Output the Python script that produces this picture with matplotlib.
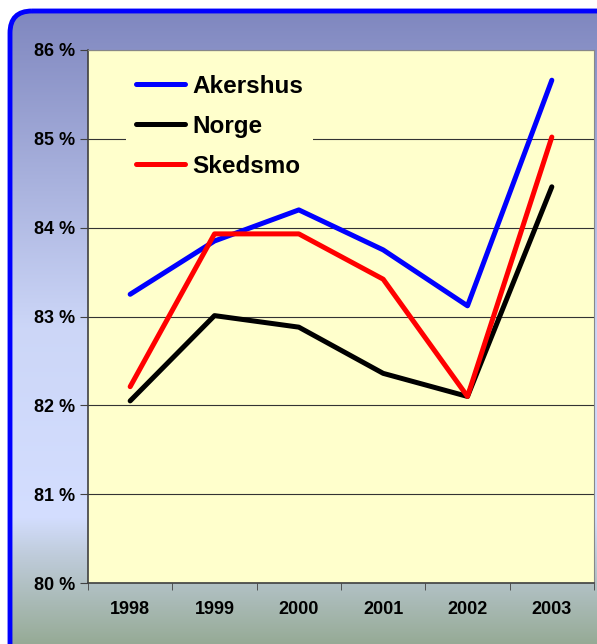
import matplotlib.pyplot as plt
import numpy as np
from matplotlib.patches import FancyBboxPatch
from matplotlib.colors import LinearSegmentedColormap

plt.rcParams['font.family'] = ['Liberation Sans', 'DejaVu Sans']

# Data
years = ['1998', '1999', '2000', '2001', '2002', '2003']
akershus = [83.25, 83.85, 84.20, 83.75, 83.12, 85.66]
norge = [82.05, 83.01, 82.88, 82.36, 82.10, 84.46]
skedsmo = [82.21, 83.93, 83.93, 83.42, 82.10, 85.02]
yticks = [80, 81, 82, 83, 84, 85, 86]

W, H = 597, 644
fig = plt.figure(figsize=(W / 100, H / 100), dpi=100)
fig.patch.set_facecolor('white')

# background panel with vertical gradient and rounded blue border
bg = fig.add_axes([0, 0, 1, 1])
bg.set_xlim(0, W)
bg.set_ylim(H, 0)
bg.axis('off')
grad = LinearSegmentedColormap.from_list('bg', [
    (0.0, (0.50, 0.53, 0.75)),
    (0.50, (0.80, 0.84, 0.97)),
    (0.80, (0.83, 0.87, 1.00)),
    (0.86, (0.75, 0.80, 0.86)),
    (1.0, (0.59, 0.67, 0.59)),
])
box = FancyBboxPatch((10, 11), W + 20, H + 20,
                     boxstyle='round,pad=0,rounding_size=22',
                     facecolor='none', edgecolor='#0000ff', linewidth=3.5)
bg.add_patch(box)
img = bg.imshow(np.linspace(0, 1, 256).reshape(-1, 1), cmap=grad, aspect='auto',
                extent=[0, W, H, 11], zorder=0)
img.set_clip_path(box)

ax = fig.add_axes([88 / W, 1 - 583 / H, (594 - 88) / W, (583 - 50) / H])
ax.set_facecolor('#ffffcc')
x = np.arange(len(years))
ax.plot(x, akershus, color='#0000ff', lw=3.6, label='Akershus', solid_capstyle='round')
ax.plot(x, norge, color='black', lw=3.6, label='Norge', solid_capstyle='round')
ax.plot(x, skedsmo, color='#ff0000', lw=3.6, label='Skedsmo', solid_capstyle='round')

ax.set_xlim(-0.5, len(years) - 0.5)
ax.set_ylim(80, 86)
ax.set_yticks(yticks)
ax.set_yticklabels([f'{v} %' for v in yticks], fontweight='bold', fontsize=13)
ax.set_xticks(x)
ax.set_xticklabels(years, fontweight='bold', fontsize=13)
ax.set_xticks(np.arange(len(years) + 1) - 0.5, minor=True)
ax.tick_params(axis='x', which='major', length=0, pad=13)
ax.tick_params(axis='x', which='minor', length=5, color='#404040')
ax.tick_params(axis='y', length=6, color='#404040', pad=3)
ax.grid(axis='y', color='#333333', lw=0.8)
ax.set_axisbelow(True)
for side in ['top', 'right']:
    ax.spines[side].set_color('#888888')
for side in ['left', 'bottom']:
    ax.spines[side].set_color('#404040')
    ax.spines[side].set_linewidth(1.2)

leg = ax.legend(loc='upper left', bbox_to_anchor=(0.052, 0.995), frameon=True,
                prop={'weight': 'bold', 'size': 17.5}, handlelength=2.0,
                handletextpad=0.32, labelspacing=0.7, borderpad=0.4)
leg.get_frame().set_facecolor('#ffffcc')
leg.get_frame().set_edgecolor('none')
leg.get_frame().set_alpha(1)

fig.savefig('out.png', dpi=100)
